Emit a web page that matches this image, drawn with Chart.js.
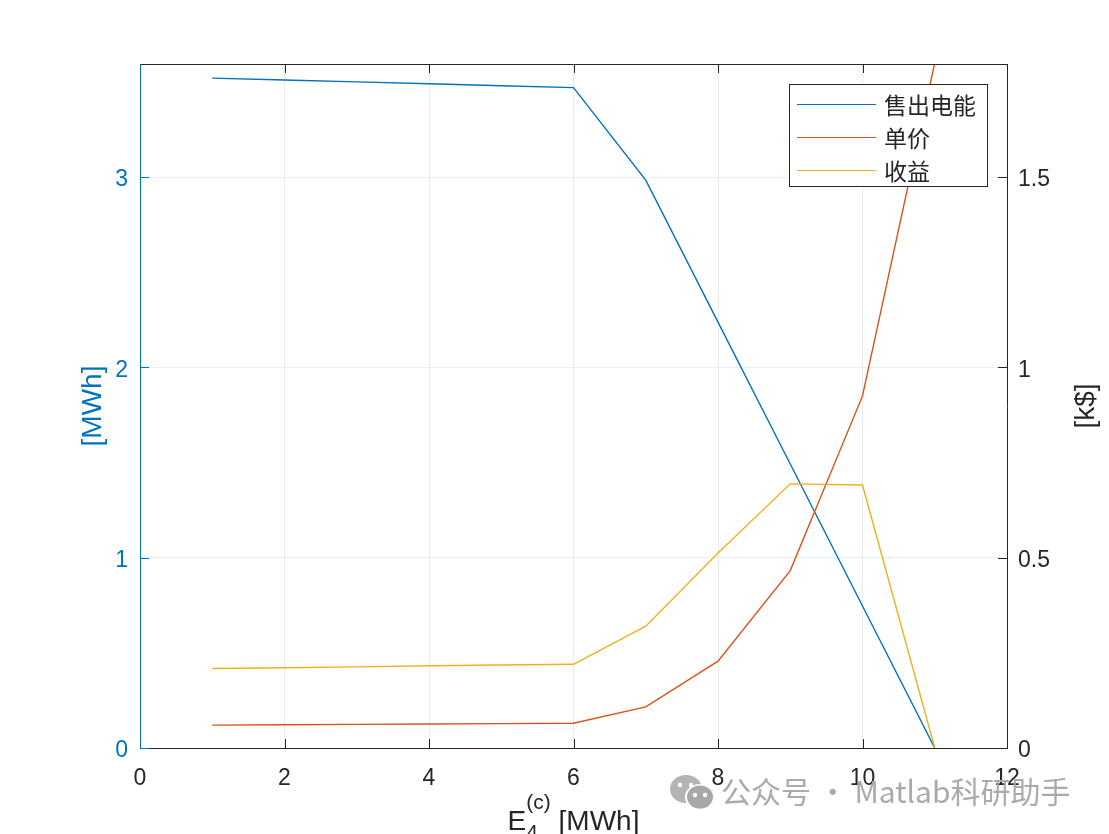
<!DOCTYPE html>
<html>
<head>
<meta charset="utf-8">
<script src="https://cdn.jsdelivr.net/npm/chart.js@4/dist/chart.umd.min.js"></script>
<style>
  html, body { margin: 0; padding: 0; background: #fff; }
  #wrap { width: 1109px; height: 834px; }
</style>
</head>
<body>
<div id="wrap"><canvas id="c" width="1109" height="834"></canvas></div>
<script>
// ---- data ----
const xVals   = [1, 2, 3, 4, 5, 6, 7, 8, 9, 10, 11];
const energy  = [3.52, 3.51, 3.50, 3.49, 3.48, 3.47, 2.984, 2.238, 1.492, 0.746, 0];   // [MWh], left axis
const price   = [0.060, 0.061, 0.062, 0.063, 0.064, 0.065, 0.108, 0.228, 0.466, 0.925, 1.80]; // right axis
const revenue = [0.209, 0.211, 0.213, 0.216, 0.218, 0.220, 0.320, 0.512, 0.694, 0.691, 0];  // [k$], right axis
const seriesNames = ['售出电能', '单价', '收益'];
const xTicks = [0, 2, 4, 6, 8, 10, 12];
const leftTicks = [0, 1, 2, 3];
const rightTicks = [0, 0.5, 1, 1.5];

const BLUE = '#0072BD', RED = '#D95319', YEL = '#EDB120', DARK = '#262626';
const FONT = '"Liberation Sans", Arial, Helvetica, sans-serif';
const CJK = '"Noto Sans CJK SC", "Noto Sans", sans-serif';

const pts = ys => xVals.map((x, i) => ({ x, y: ys[i] }));

// --- axes box, inward ticks, titles, legend ---
const matlabDeco = {
  id: 'matlabDeco',
  afterDraw(chart) {
    const ctx = chart.ctx;
    const a = chart.chartArea;
    const sx = chart.scales.x, sl = chart.scales.yL, sr = chart.scales.yR;
    const TL = 9;
    ctx.save();
    ctx.lineWidth = 1;

    // x axis lines + ticks (bottom and top)
    ctx.strokeStyle = DARK;
    ctx.beginPath();
    ctx.moveTo(a.left, a.bottom + 0.5); ctx.lineTo(a.right, a.bottom + 0.5);
    ctx.moveTo(a.left, a.top + 0.5); ctx.lineTo(a.right, a.top + 0.5);
    xTicks.forEach(v => {
      const px = Math.round(sx.getPixelForValue(v)) + 0.5;
      ctx.moveTo(px, a.bottom); ctx.lineTo(px, a.bottom - TL);
      ctx.moveTo(px, a.top); ctx.lineTo(px, a.top + TL);
    });
    ctx.stroke();

    // right axis
    ctx.beginPath();
    ctx.moveTo(a.right + 0.5, a.top); ctx.lineTo(a.right + 0.5, a.bottom + 1);
    rightTicks.forEach(v => {
      const py = Math.round(sr.getPixelForValue(v)) + 0.5;
      ctx.moveTo(a.right, py); ctx.lineTo(a.right - TL, py);
    });
    ctx.stroke();

    // left axis (blue)
    ctx.strokeStyle = BLUE;
    ctx.beginPath();
    ctx.moveTo(a.left + 0.5, a.top); ctx.lineTo(a.left + 0.5, a.bottom + 1);
    leftTicks.forEach(v => {
      const py = Math.round(sl.getPixelForValue(v)) + 0.5;
      ctx.moveTo(a.left, py); ctx.lineTo(a.left + TL, py);
    });
    ctx.stroke();

    // y titles
    const cy = (a.top + a.bottom) / 2;
    ctx.textAlign = 'center';
    ctx.textBaseline = 'middle';
    ctx.font = '28px ' + FONT;
    ctx.fillStyle = BLUE;
    ctx.save(); ctx.translate(93, cy); ctx.rotate(-Math.PI / 2); ctx.fillText('[MWh]', 0, 0); ctx.restore();
    ctx.fillStyle = DARK;
    ctx.save(); ctx.translate(1086, cy); ctx.rotate(-Math.PI / 2); ctx.fillText('[k$]', 0, 0); ctx.restore();

    // x title: E_4^(c) [MWh]
    ctx.textAlign = 'left';
    ctx.textBaseline = 'alphabetic';
    ctx.fillStyle = DARK;
    const big = '28px ' + FONT, small = '21px ' + FONT;
    ctx.font = big; const wE = ctx.measureText('E').width; const wRest = ctx.measureText(' [MWh]').width;
    ctx.font = small; const wSup = ctx.measureText('(c)').width;
    const total = wE + wSup + wRest;
    let tx = (a.left + a.right) / 2 - total / 2;
    const base = 830;
    ctx.font = big; ctx.fillText('E', tx, base); tx += wE;
    ctx.font = small; ctx.fillText('(c)', tx, base - 21); ctx.fillText('4', tx, base + 9); tx += wSup;
    ctx.font = big; ctx.fillText(' [MWh]', tx, base);

    // legend box
    const bx = a.right - 218, by = a.top + 20, bw = 198, bh = 102;
    ctx.fillStyle = '#fff';
    ctx.fillRect(bx, by, bw, bh);
    ctx.strokeStyle = DARK;
    ctx.strokeRect(bx + 0.5, by + 0.5, bw, bh);
    const cols = chart.data.datasets.map(d => d.borderColor);
    ctx.font = '23px ' + CJK;
    ctx.textBaseline = 'middle';
    seriesNames.forEach((name, i) => {
      const ry = by + 20 + i * 33;
      ctx.strokeStyle = cols[i];
      ctx.beginPath(); ctx.moveTo(bx + 8, ry + 0.5); ctx.lineTo(bx + 87, ry + 0.5); ctx.stroke();
      ctx.fillStyle = DARK;
      ctx.fillText(name, bx + 95, ry + 1);
    });

    // watermark
    ctx.fillStyle = '#b4b4b4';
    ctx.beginPath(); ctx.ellipse(686, 789, 16, 14, 0, 0, Math.PI * 2); ctx.fill();
    ctx.fillStyle = '#fff';
    ctx.beginPath(); ctx.ellipse(700, 797, 15, 13, 0, 0, Math.PI * 2); ctx.fill();
    ctx.fillStyle = '#a8a8a8';
    ctx.beginPath(); ctx.ellipse(700, 797, 13, 11.5, 0, 0, Math.PI * 2); ctx.fill();
    ctx.fillStyle = '#fff';
    [[680, 785], [691, 785], [695, 795], [705, 795]].forEach(([px, py]) => {
      ctx.beginPath(); ctx.arc(px, py, 2.2, 0, Math.PI * 2); ctx.fill();
    });
    ctx.fillStyle = '#aaaaaa';
    ctx.font = '30px ' + CJK;
    ctx.textBaseline = 'middle';
    ctx.fillText('公众号 · Matlab科研助手', 721, 792);
    ctx.restore();
  }
};

new Chart(document.getElementById('c'), {
  type: 'line',
  data: {
    datasets: [
      { label: seriesNames[0], data: pts(energy),  yAxisID: 'yL', borderColor: BLUE, order: 3 },
      { label: seriesNames[1], data: pts(price),   yAxisID: 'yR', borderColor: RED,  order: 2 },
      { label: seriesNames[2], data: pts(revenue), yAxisID: 'yR', borderColor: YEL,  order: 1 }
    ]
  },
  options: {
    responsive: false,
    animation: false,
    devicePixelRatio: 1,
    layout: { padding: { top: 64, left: 0, right: 0, bottom: 0 } },
    elements: {
      line: { borderWidth: 1.4, tension: 0, fill: false },
      point: { radius: 0, hoverRadius: 0 }
    },
    plugins: { legend: { display: false }, tooltip: { enabled: false } },
    scales: {
      x: {
        type: 'linear', min: 0, max: 12,
        afterFit: s => { s.height = 86; },
        afterBuildTicks: s => { s.ticks = xTicks.map(v => ({ value: v })); },
        ticks: { color: DARK, font: { family: FONT, size: 23 }, padding: 17, callback: v => String(v) },
        grid: { color: '#ebebeb', drawTicks: false },
        border: { display: false }
      },
      yL: {
        type: 'linear', position: 'left', min: 0, max: 3.594,
        afterFit: s => { s.width = 140; },
        afterBuildTicks: s => { s.ticks = leftTicks.map(v => ({ value: v })); },
        ticks: { color: BLUE, font: { family: FONT, size: 23 }, padding: 12, labelOffset: 3, callback: v => String(v) },
        grid: { color: 'rgba(0,114,189,0.10)', drawTicks: false },
        border: { display: false }
      },
      yR: {
        type: 'linear', position: 'right', min: 0, max: 1.797,
        afterFit: s => { s.width = 102; },
        afterBuildTicks: s => { s.ticks = rightTicks.map(v => ({ value: v })); },
        ticks: { color: DARK, font: { family: FONT, size: 23 }, padding: 11, labelOffset: 3, callback: v => String(v) },
        grid: { display: false, drawTicks: false },
        border: { display: false }
      }
    }
  },
  plugins: [matlabDeco]
});
</script>
</body>
</html>
